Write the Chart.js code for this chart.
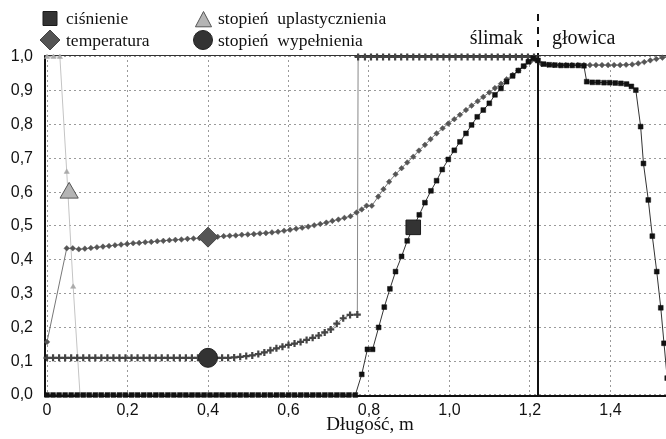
<!DOCTYPE html>
<html>
<head>
<meta charset="utf-8">
<script src="https://cdn.jsdelivr.net/npm/chart.js@4.4.0/dist/chart.umd.min.js"></script>
<style>
  html, body { margin: 0; padding: 0; background: #fff; }
  #wrap { width: 666px; height: 439px; }
</style>
</head>
<body>
<div id="wrap"><canvas id="chart_1" width="666" height="439"></canvas></div>
<script>
// profile along the extruder: [length in m, relative value]
var pressure = [
  [0, 0], [0.015, 0], [0.03, 0], [0.045, 0], [0.06, 0], [0.075, 0], [0.09, 0], [0.105, 0], [0.12, 0], [0.135, 0],
  [0.15, 0], [0.165, 0], [0.18, 0], [0.195, 0], [0.21, 0], [0.225, 0], [0.24, 0], [0.255, 0], [0.27, 0], [0.285, 0],
  [0.3, 0], [0.315, 0], [0.33, 0], [0.345, 0], [0.36, 0], [0.375, 0], [0.39, 0], [0.405, 0], [0.42, 0], [0.435, 0],
  [0.45, 0], [0.465, 0], [0.48, 0], [0.495, 0], [0.51, 0], [0.525, 0], [0.54, 0], [0.555, 0], [0.57, 0], [0.585, 0],
  [0.6, 0], [0.615, 0], [0.63, 0], [0.645, 0], [0.66, 0], [0.675, 0], [0.69, 0], [0.705, 0], [0.72, 0], [0.735, 0],
  [0.75, 0], [0.766, 0],
  [0.782, 0.061], [0.796, 0.135], [0.809, 0.135], [0.824, 0.2], [0.838, 0.26], [0.852, 0.314], [0.866, 0.365],
  [0.881, 0.41], [0.895, 0.456], [0.91, 0.496], [0.925, 0.533], [0.939, 0.569], [0.954, 0.604], [0.968, 0.634],
  [0.982, 0.667], [0.997, 0.697], [1.012, 0.724], [1.026, 0.749], [1.041, 0.774], [1.055, 0.799], [1.069, 0.823],
  [1.084, 0.843], [1.099, 0.863], [1.113, 0.888], [1.128, 0.907], [1.142, 0.927], [1.157, 0.944], [1.171, 0.96],
  [1.184, 0.973], [1.196, 0.986], [1.208, 0.996], [1.22, 0.99],
  [1.234, 0.979], [1.248, 0.977], [1.262, 0.976], [1.277, 0.975], [1.291, 0.975], [1.305, 0.975], [1.32, 0.975],
  [1.334, 0.974], [1.341, 0.927], [1.355, 0.925], [1.369, 0.925], [1.384, 0.924], [1.398, 0.924], [1.412, 0.923],
  [1.426, 0.922], [1.44, 0.92], [1.452, 0.913], [1.463, 0.902], [1.475, 0.794], [1.482, 0.685], [1.494, 0.577],
  [1.504, 0.47], [1.515, 0.365], [1.525, 0.258], [1.533, 0.153], [1.541, 0.05]
];

var temperature = [
  [0, 0.157], [0.049, 0.434], [0.064, 0.434], [0.079, 0.431], [0.094, 0.433], [0.109, 0.435], [0.124, 0.437],
  [0.139, 0.439], [0.154, 0.441], [0.169, 0.443], [0.184, 0.445], [0.199, 0.447], [0.214, 0.449], [0.229, 0.45],
  [0.244, 0.452], [0.259, 0.453], [0.274, 0.455], [0.289, 0.456], [0.304, 0.458], [0.319, 0.459], [0.334, 0.46],
  [0.349, 0.462], [0.364, 0.463], [0.379, 0.464], [0.394, 0.466], [0.409, 0.467], [0.424, 0.468], [0.439, 0.47],
  [0.454, 0.471], [0.469, 0.472], [0.484, 0.474], [0.499, 0.475], [0.514, 0.476], [0.529, 0.478], [0.544, 0.479],
  [0.559, 0.481], [0.574, 0.483], [0.589, 0.486], [0.604, 0.489], [0.619, 0.492], [0.634, 0.495], [0.649, 0.498],
  [0.664, 0.502], [0.679, 0.506], [0.694, 0.51], [0.709, 0.515], [0.724, 0.519], [0.739, 0.524], [0.754, 0.529],
  [0.769, 0.54], [0.782, 0.549], [0.794, 0.56], [0.807, 0.56], [0.823, 0.587], [0.836, 0.609], [0.85, 0.631],
  [0.866, 0.653], [0.881, 0.671], [0.895, 0.688], [0.91, 0.705], [0.924, 0.723], [0.939, 0.74], [0.953, 0.757],
  [0.968, 0.774], [0.983, 0.789], [0.997, 0.803], [1.012, 0.816], [1.026, 0.829], [1.041, 0.843], [1.055, 0.856],
  [1.07, 0.869], [1.084, 0.882], [1.099, 0.895], [1.113, 0.908], [1.128, 0.921], [1.142, 0.934], [1.157, 0.947],
  [1.171, 0.96], [1.186, 0.972], [1.2, 0.985], [1.215, 0.99],
  [1.229, 0.979], [1.244, 0.977], [1.259, 0.976], [1.274, 0.976], [1.289, 0.976], [1.304, 0.976], [1.319, 0.976],
  [1.334, 0.976], [1.349, 0.976], [1.364, 0.976], [1.379, 0.976], [1.394, 0.976], [1.409, 0.976], [1.424, 0.976],
  [1.439, 0.977], [1.454, 0.978], [1.469, 0.981], [1.484, 0.985], [1.499, 0.99], [1.514, 0.994], [1.529, 0.998],
  [1.544, 1.0]
];

var plasticization = [
  [0, 1], [0.016, 1], [0.032, 1], [0.049, 0.66], [0.065, 0.32], [0.082, 0],
  [0.097, 0], [0.127, 0], [0.157, 0], [0.187, 0], [0.217, 0], [0.247, 0], [0.277, 0], [0.307, 0], [0.337, 0],
  [0.367, 0], [0.397, 0], [0.427, 0], [0.457, 0], [0.487, 0], [0.517, 0], [0.547, 0], [0.577, 0], [0.607, 0],
  [0.637, 0], [0.667, 0], [0.697, 0], [0.727, 0], [0.757, 0]
];

var filling = [
  [0, 0.11], [0.015, 0.11], [0.03, 0.11], [0.045, 0.11], [0.06, 0.11], [0.075, 0.11], [0.09, 0.11], [0.105, 0.11],
  [0.12, 0.11], [0.135, 0.11], [0.15, 0.11], [0.165, 0.11], [0.18, 0.11], [0.195, 0.11], [0.21, 0.11], [0.225, 0.11],
  [0.24, 0.11], [0.255, 0.11], [0.27, 0.11], [0.285, 0.11], [0.3, 0.11], [0.315, 0.11], [0.33, 0.11], [0.345, 0.11],
  [0.36, 0.11], [0.375, 0.11], [0.39, 0.11], [0.405, 0.11], [0.42, 0.11], [0.435, 0.11], [0.45, 0.11],
  [0.465, 0.111], [0.48, 0.113], [0.495, 0.115], [0.51, 0.117], [0.525, 0.121], [0.54, 0.126], [0.555, 0.132],
  [0.57, 0.138], [0.585, 0.143], [0.6, 0.148], [0.615, 0.152], [0.63, 0.157], [0.645, 0.163], [0.66, 0.169],
  [0.675, 0.176], [0.69, 0.185], [0.705, 0.194], [0.72, 0.211], [0.736, 0.227], [0.753, 0.237], [0.771, 0.238],
  [0.773, 1], [0.79, 1], [0.805, 1], [0.82, 1], [0.835, 1], [0.85, 1], [0.865, 1], [0.88, 1], [0.895, 1], [0.91, 1],
  [0.925, 1], [0.94, 1], [0.955, 1], [0.97, 1], [0.985, 1], [1.0, 1], [1.015, 1], [1.03, 1], [1.045, 1], [1.06, 1],
  [1.075, 1], [1.09, 1], [1.105, 1], [1.12, 1], [1.135, 1], [1.15, 1], [1.165, 1], [1.18, 1], [1.195, 1], [1.21, 1]
];

// one large marker per curve, same symbol as in the key
var keyMarkers = [[0.91, 0.496], [0.4, 0.467], [0.055, 0.598], [0.4, 0.11]];
var seriesNames = ['ciśnienie', 'temperatura', 'stopień  uplastycznienia', 'stopień  wypełnienia'];

var screwEnd = 1.22;                 // end of the screw, start of the head
var zoneNames = ['ślimak', 'głowica'];
var axisTitle = 'Długość, m';

function toPoints(arr) {
  return arr.map(function (p) { return {x: p[0], y: p[1]}; });
}

function drawMarker(ctx, shape, x, y, r, fill, stroke) {
  ctx.save();
  ctx.fillStyle = fill;
  ctx.strokeStyle = stroke;
  ctx.lineWidth = 1;
  ctx.beginPath();
  if (shape === 'rect') {
    ctx.rect(x - r, y - r, 2 * r, 2 * r);
  } else if (shape === 'rectRot') {
    ctx.moveTo(x, y - r); ctx.lineTo(x + r, y); ctx.lineTo(x, y + r); ctx.lineTo(x - r, y); ctx.closePath();
  } else if (shape === 'triangle') {
    ctx.moveTo(x, y - r); ctx.lineTo(x + r * 0.95, y + r * 0.8); ctx.lineTo(x - r * 0.95, y + r * 0.8); ctx.closePath();
  } else {
    ctx.arc(x, y, r, 0, Math.PI * 2);
  }
  ctx.fill();
  ctx.stroke();
  ctx.restore();
}

var extruderPlugin = {
  id: 'extruder',
  beforeDatasetsDraw: function (chart) {
    var ctx = chart.ctx, a = chart.chartArea;
    var xb = Math.round(chart.scales.x.getPixelForValue(screwEnd));
    ctx.save();
    ctx.strokeStyle = '#111';
    ctx.lineWidth = 2;
    ctx.beginPath();
    ctx.moveTo(xb, a.bottom); ctx.lineTo(xb, a.top);       // screw / head boundary
    ctx.moveTo(a.left + 1, a.top); ctx.lineTo(a.left + 1, a.bottom);
    ctx.moveTo(a.left, a.bottom); ctx.lineTo(a.right, a.bottom);
    ctx.stroke();
    ctx.lineWidth = 1;
    ctx.strokeStyle = '#333';
    ctx.beginPath();
    ctx.moveTo(a.left, a.top + 0.5); ctx.lineTo(a.right, a.top + 0.5);
    ctx.stroke();
    ctx.restore();
  },
  afterDraw: function (chart) {
    var ctx = chart.ctx, a = chart.chartArea;
    var xb = Math.round(chart.scales.x.getPixelForValue(screwEnd));
    ctx.save();
    // dashed marker above the plot
    ctx.strokeStyle = '#111';
    ctx.lineWidth = 2;
    ctx.setLineDash([7, 6]);
    ctx.beginPath();
    ctx.moveTo(xb, 14); ctx.lineTo(xb, a.top);
    ctx.stroke();
    ctx.setLineDash([]);

    ctx.fillStyle = '#111';
    ctx.font = '20px "Liberation Serif", "Times New Roman", serif';
    ctx.textBaseline = 'alphabetic';
    ctx.textAlign = 'right';
    ctx.fillText(zoneNames[0], xb - 15, 44);
    ctx.textAlign = 'left';
    ctx.fillText(zoneNames[1], xb + 14, 44);

    // key
    drawMarker(ctx, 'rect', 50, 18.5, 7, '#333', '#1a1a1a');
    drawMarker(ctx, 'rectRot', 50, 40, 10, '#555', '#444');
    drawMarker(ctx, 'triangle', 203.5, 20, 8.5, '#b4b4b4', '#555');
    drawMarker(ctx, 'circle', 203, 40, 9.5, '#333', '#222');
    ctx.fillStyle = '#111';
    ctx.font = '17.5px "Liberation Serif", "Times New Roman", serif';
    ctx.fillText(seriesNames[0], 66, 24);
    ctx.fillText(seriesNames[1], 66, 46);
    ctx.fillText(seriesNames[2], 218, 24);
    ctx.fillText(seriesNames[3], 218, 46);

    // axis title
    ctx.font = '19px "Liberation Serif", "Times New Roman", serif';
    ctx.textAlign = 'center';
    ctx.fillText(axisTitle, 370, 430);
    ctx.restore();
  }
};

var ctx_1 = document.getElementById('chart_1').getContext('2d');
var chart_1 = new Chart(ctx_1, {
  type: 'scatter',
  data: {
    datasets: [
      {
        data: toPoints([keyMarkers[0]]), pointStyle: 'rect', pointRadius: 10.3,
        backgroundColor: '#333', borderColor: '#1a1a1a', borderWidth: 1, showLine: false, clip: false
      },
      {
        data: toPoints([keyMarkers[1]]), pointStyle: 'rectRot', pointRadius: 10,
        backgroundColor: '#555', borderColor: '#444', borderWidth: 1, showLine: false, clip: false
      },
      {
        data: toPoints([keyMarkers[2]]), pointStyle: 'triangle', pointRadius: 10.5,
        backgroundColor: '#b4b4b4', borderColor: '#555', borderWidth: 1, showLine: false, clip: false
      },
      {
        data: toPoints([keyMarkers[3]]), pointStyle: 'circle', pointRadius: 9.5,
        backgroundColor: '#333', borderColor: '#222', borderWidth: 1, showLine: false, clip: false
      },
      {
        label: seriesNames[0], data: toPoints(pressure), showLine: true, tension: 0,
        borderColor: '#333', borderWidth: 1, pointStyle: 'rect', pointRadius: 3.4,
        pointBackgroundColor: '#111', pointBorderColor: '#111', pointBorderWidth: 0.5, clip: false
      },
      {
        label: seriesNames[1], data: toPoints(temperature), showLine: true, tension: 0,
        borderColor: '#777', borderWidth: 1, pointStyle: 'rectRot', pointRadius: 2.8,
        pointBackgroundColor: '#555', pointBorderColor: '#555', pointBorderWidth: 0.5, clip: false
      },
      {
        label: seriesNames[3], data: toPoints(filling), showLine: true, tension: 0,
        borderColor: '#888', borderWidth: 1, pointStyle: 'cross', pointRadius: 3.5,
        pointBorderColor: '#444', pointBorderWidth: 2.2, clip: false
      },
      {
        label: seriesNames[2], data: toPoints(plasticization), showLine: true, tension: 0,
        borderColor: '#c4c4c4', borderWidth: 1, pointStyle: 'triangle', pointRadius: 3,
        pointBackgroundColor: '#aaa', pointBorderColor: '#aaa', pointBorderWidth: 0.5, clip: false
      }
    ]
  },
  options: {
    responsive: false,
    animation: false,
    events: [],
    layout: { autoPadding: false, padding: { top: 55, left: 0, right: 0, bottom: 0 } },
    plugins: { legend: { display: false }, tooltip: { enabled: false } },
    scales: {
      x: {
        type: 'linear',
        min: -0.0075,
        max: 1.538,
        grid: { color: '#9a9a9a', lineWidth: 1, drawTicks: false },
        border: { display: false, dash: [2, 3] },
        ticks: {
          stepSize: 0.2,
          includeBounds: false,
          maxRotation: 0,
          padding: 5,
          color: '#111',
          font: { family: '"Liberation Sans", Arial, sans-serif', size: 16 },
          callback: function (v) { return v === 0 ? '0' : v.toFixed(1).replace('.', ','); }
        },
        afterFit: function (s) { s.height = 43; s.paddingLeft = 0; s.paddingRight = 0; }
      },
      y: {
        type: 'linear',
        min: -0.003,
        max: 1.0059,
        grid: { color: '#9a9a9a', lineWidth: 1, drawTicks: false },
        border: { display: false, dash: [2, 3] },
        ticks: {
          stepSize: 0.1,
          includeBounds: false,
          padding: 11,
          color: '#111',
          font: { family: '"Liberation Sans", Arial, sans-serif', size: 16 },
          callback: function (v) { return v.toFixed(1).replace('.', ','); }
        },
        afterFit: function (s) { s.width = 44; s.paddingTop = 0; s.paddingBottom = 0; }
      }
    }
  },
  plugins: [extruderPlugin]
});
</script>
</body>
</html>
